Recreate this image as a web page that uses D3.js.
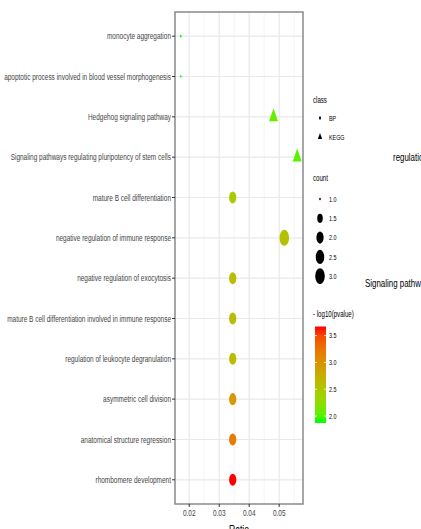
<!DOCTYPE html>
<html>
<head>
<meta charset="utf-8">
<script src="https://cdn.jsdelivr.net/npm/d3@7"></script>
<style>
  body { margin: 0; background: #fff; }
  text { font-family: "Liberation Sans", Arial, sans-serif; }
</style>
</head>
<body>
<div id="chart"></div>
<script>
// terms, top to bottom
const terms = [
    "monocyte aggregation",
    "apoptotic process involved in blood vessel morphogenesis",
    "Hedgehog signaling pathway",
    "Signaling pathways regulating pluripotency of stem cells",
    "mature B cell differentiation",
    "negative regulation of immune response",
    "negative regulation of exocytosis",
    "mature B cell differentiation involved in immune response",
    "regulation of leukocyte degranulation",
    "asymmetric cell division",
    "anatomical structure regression",
    "rhombomere development"
];
const termClass = ["BP", "BP", "KEGG", "KEGG", "BP", "BP", "BP", "BP", "BP", "BP", "BP", "BP"];
const ratios = [0.0172, 0.0172, 0.0481, 0.0560, 0.0345, 0.0517, 0.0345, 0.0345, 0.0345, 0.0345, 0.0345, 0.0345];
const counts = [1, 1, 2, 2, 2, 3, 2, 2, 2, 2, 2, 2];
const logP = [1.87, 1.87, 2.05, 2.0, 2.45, 2.55, 2.6, 2.6, 2.6, 2.95, 3.2, 3.67];

const xTicks = [0.02, 0.03, 0.04, 0.05];
const xMinorTicks = [0.015, 0.025, 0.035, 0.045, 0.055];
const classKeys = ["BP", "KEGG"];
const countKeys = [1.0, 1.5, 2.0, 2.5, 3.0];
const colorTicks = [2.0, 2.5, 3.0, 3.5];
// labels of a neighbouring figure that leak into the right edge
const strayLabels = ["regulation", "Signaling pathways"];

function chart() {
    const W = 421, H = 529;
    const panel = {l: 175, r: 303, t: 12, b: 504};
    const sx = 0.72;      // horizontal squeeze of the text
    const shapeSx = 0.6;  // horizontal squeeze of the marks

    let svg = d3.select("#chart")
        .append("svg")
        .attr("width", W)
        .attr("height", H);
    svg.append("rect").attr("width", W).attr("height", H).attr("fill", "#fff");

    //scales, with ggplot's expansion
    const xMin = d3.min(ratios), xMax = d3.max(ratios);
    const pad = (xMax - xMin) * 0.05;
    let scaleX = d3.scaleLinear().domain([xMin - pad, xMax + pad]).range([panel.l, panel.r]);
    let scaleY = d3.scalePoint().domain(terms).range([panel.t, panel.b]).padding(0.6);

    const pMin = d3.min(logP), pMax = d3.max(logP);
    let scaleColor = d3.scaleLinear().domain([pMin, pMax])
        .range(["#00ff00", "#ff0000"]).interpolate(d3.interpolateLab);

    // ggplot area scale: size 1..6
    let scaleSize = function (c) {
        return 1 + 5 * Math.sqrt((c - d3.min(counts)) / (d3.max(counts) - d3.min(counts)));
    };
    const pxPerSize = 1.33;
    function symbolPath(cls, c) {
        const r = scaleSize(c) * pxPerSize;
        const area = Math.PI * r * r;
        if (cls === "KEGG") {
            return d3.symbol().type(d3.symbolTriangle).size(area * 0.85)();
        }
        return d3.symbol().type(d3.symbolCircle).size(area)();
    }

    //grid
    let grid = svg.append("g");
    grid.selectAll(".minor").data(xMinorTicks.filter(d => scaleX(d) < panel.r)).enter()
        .append("line")
        .attr("x1", d => scaleX(d)).attr("x2", d => scaleX(d))
        .attr("y1", panel.t).attr("y2", panel.b)
        .attr("stroke", "#f3f3f3").attr("stroke-width", 0.8);
    grid.selectAll(".major").data(xTicks).enter()
        .append("line")
        .attr("x1", d => scaleX(d)).attr("x2", d => scaleX(d))
        .attr("y1", panel.t).attr("y2", panel.b)
        .attr("stroke", "#e9e9e9").attr("stroke-width", 1.2);
    grid.selectAll(".hmajor").data(terms).enter()
        .append("line")
        .attr("x1", panel.l).attr("x2", panel.r)
        .attr("y1", d => scaleY(d)).attr("y2", d => scaleY(d))
        .attr("stroke", "#e9e9e9").attr("stroke-width", 1.2);

    //points
    svg.append("g").selectAll("path").data(terms).enter()
        .append("path")
        .attr("d", (d, i) => symbolPath(termClass[i], counts[i]))
        .attr("transform", (d, i) => `translate(${scaleX(ratios[i])},${scaleY(d)}) scale(${shapeSx},1)`)
        .attr("fill", (d, i) => scaleColor(logP[i]));

    //panel border
    svg.append("rect")
        .attr("x", panel.l).attr("y", panel.t)
        .attr("width", panel.r - panel.l).attr("height", panel.b - panel.t)
        .attr("fill", "none").attr("stroke", "#8a8a8a").attr("stroke-width", 1.5);

    //y axis
    let yAxis = svg.append("g");
    terms.forEach(function (t) {
        let y = scaleY(t);
        yAxis.append("line")
            .attr("x1", panel.l - 3).attr("x2", panel.l)
            .attr("y1", y).attr("y2", y)
            .attr("stroke", "#333").attr("stroke-width", 1);
        yAxis.append("text")
            .attr("transform", `translate(${panel.l - 4},${y}) scale(${sx},1)`)
            .attr("text-anchor", "end")
            .attr("dy", "0.35em")
            .attr("font-size", 9)
            .attr("fill", "#444")
            .text(t);
    });

    //x axis
    let xAxis = svg.append("g");
    xTicks.forEach(function (v) {
        let x = scaleX(v);
        xAxis.append("line")
            .attr("x1", x).attr("x2", x)
            .attr("y1", panel.b).attr("y2", panel.b + 3)
            .attr("stroke", "#333").attr("stroke-width", 1);
        xAxis.append("text")
            .attr("transform", `translate(${x},${panel.b + 12}) scale(${sx},1)`)
            .attr("text-anchor", "middle")
            .attr("font-size", 9)
            .attr("fill", "#444")
            .text(d3.format(".2f")(v));
    });
    svg.append("text")
        .attr("transform", `translate(${(panel.l + panel.r) / 2},${panel.b + 30}) scale(${sx},1)`)
        .attr("text-anchor", "middle")
        .attr("font-size", 12)
        .attr("fill", "#000")
        .text("Ratio");

    //legends
    const lx = 313;
    function legendText(x, y, s, size) {
        svg.append("text")
            .attr("transform", `translate(${x},${y}) scale(${sx},1)`)
            .attr("dy", "0.35em")
            .attr("font-size", size)
            .attr("fill", "#000")
            .text(s);
    }

    // class
    legendText(lx, 100, "class", 8.5);
    classKeys.forEach(function (k, i) {
        let y = 118 + i * 19;
        const a = k === "KEGG" ? 22 : 9;
        svg.append("path")
            .attr("d", d3.symbol().type(k === "KEGG" ? d3.symbolTriangle : d3.symbolCircle).size(a)())
            .attr("transform", `translate(${lx + 7},${y}) scale(${shapeSx},1)`)
            .attr("fill", "#000");
        legendText(lx + 16, y, k, 7.5);
    });

    // count
    legendText(lx, 178, "count", 8.5);
    countKeys.forEach(function (c, i) {
        let y = 199 + i * 19.3;
        svg.append("path")
            .attr("d", symbolPath("BP", c))
            .attr("transform", `translate(${lx + 7},${y}) scale(${shapeSx},1)`)
            .attr("fill", "#000");
        legendText(lx + 16, y, d3.format(".1f")(c), 7.5);
    });

    // colour bar
    legendText(lx, 314, "- log10(pvalue)", 8.5);
    const bar = {x: 315, w: 11, t: 326.5, b: 423};
    let scaleBar = d3.scaleLinear().domain([pMin, pMax]).range([bar.b, bar.t]);
    let grad = svg.append("defs").append("linearGradient")
        .attr("id", "pgrad").attr("x1", 0).attr("x2", 0).attr("y1", 1).attr("y2", 0);
    d3.range(0, 1.0001, 0.1).forEach(function (t) {
        grad.append("stop")
            .attr("offset", t)
            .attr("stop-color", scaleColor(pMin + t * (pMax - pMin)));
    });
    svg.append("rect")
        .attr("x", bar.x).attr("y", bar.t)
        .attr("width", bar.w).attr("height", bar.b - bar.t)
        .attr("fill", "url(#pgrad)");
    colorTicks.forEach(function (v) {
        let y = scaleBar(v);
        [bar.x, bar.x + bar.w - 2].forEach(function (x) {
            svg.append("line")
                .attr("x1", x).attr("x2", x + 2)
                .attr("y1", y).attr("y2", y)
                .attr("stroke", "#fff").attr("stroke-width", 0.8);
        });
        legendText(bar.x + bar.w + 3, y, d3.format(".1f")(v), 7.5);
    });

    //leaked labels at the right edge
    legendText(393, 157, strayLabels[0], 11);
    legendText(365, 283, strayLabels[1], 11);
}
chart();
</script>
</body>
</html>
